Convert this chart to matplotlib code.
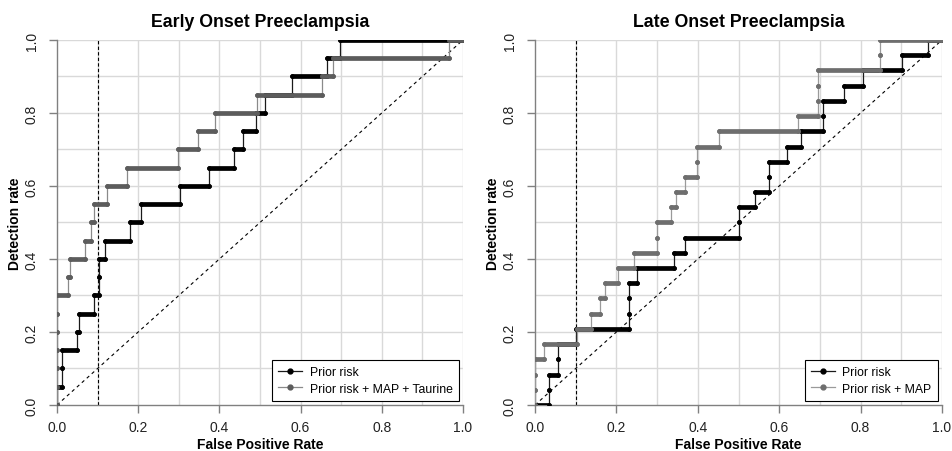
import numpy as np
import matplotlib
matplotlib.use("Agg")
import matplotlib.pyplot as plt
from matplotlib.lines import Line2D

plt.rcParams['font.family'] = ['Liberation Sans', 'DejaVu Sans']

# ---- data (step ROC curves) ----
# each run i sits at tpr level[i] and spans fpr edges[i] .. edges[i+1]
early_levels = [0.0, 0.05, 0.10, 0.15, 0.20, 0.25, 0.30, 0.35, 0.40, 0.45, 0.50,
                0.55, 0.60, 0.65, 0.70, 0.75, 0.80, 0.85, 0.90, 0.95, 1.0]
early_prior_edges = [0.0, 0.0, 0.013, 0.013, 0.048, 0.055, 0.09, 0.103, 0.103, 0.117,
                     0.18, 0.207, 0.302, 0.375, 0.437, 0.458, 0.49, 0.513, 0.58,
                     0.666, 0.698, 1.0]
early_combo_edges = [0.0, 0.0, 0.0, 0.0, 0.0, 0.0, 0.0, 0.028, 0.033, 0.07, 0.083,
                     0.092, 0.124, 0.173, 0.298, 0.348, 0.389, 0.493, 0.652, 0.68,
                     0.965, 1.0]

late_levels = [0.0, 0.042, 0.083, 0.125, 0.167, 0.208, 0.25, 0.292, 0.333, 0.375,
               0.417, 0.458, 0.5, 0.542, 0.583, 0.625, 0.667, 0.708, 0.75, 0.792,
               0.833, 0.875, 0.917, 0.958, 1.0]
late_prior_edges = [0.0, 0.035, 0.035, 0.056, 0.056, 0.1, 0.232, 0.232, 0.232, 0.25,
                    0.341, 0.368, 0.5, 0.5, 0.541, 0.575, 0.575, 0.619, 0.653, 0.708,
                    0.708, 0.758, 0.806, 0.902, 0.966, 1.0]
late_combo_edges = [0.0, 0.0, 0.0, 0.0, 0.021, 0.103, 0.137, 0.16, 0.173, 0.203, 0.244,
                    0.3, 0.3, 0.334, 0.346, 0.368, 0.399, 0.399, 0.452, 0.647, 0.695,
                    0.695, 0.695, 0.847, 0.847, 1.0]

titles = ["Early Onset Preeclampsia", "Late Onset Preeclampsia"]
legend_labels = [["Prior risk", "Prior risk + MAP + Taurine"],
                 ["Prior risk", "Prior risk + MAP"]]
cutoff_fpr = 0.1
ticks = [0.0, 0.2, 0.4, 0.6, 0.8, 1.0]
grid_pos = [0.1, 0.2, 0.3, 0.4, 0.5, 0.6, 0.7, 0.8, 0.9, 1.0]


def draw_curve(ax, levels, edges, dot_col, line_col):
    xs, ys = [], []
    for i, lv in enumerate(levels):
        xs += [edges[i], edges[i + 1]]
        ys += [lv, lv]
    # thin connecting step line
    ax.plot(xs, ys, color=line_col, lw=0.9, zorder=3)
    # dense dots along horizontal runs -> thick rounded segments
    for i, lv in enumerate(levels):
        if edges[i + 1] > edges[i]:
            ax.plot([edges[i], edges[i + 1]], [lv, lv], color=dot_col, lw=3.4,
                    solid_capstyle='round', zorder=4)
    ax.plot(xs, ys, 'o', color=dot_col, ms=3.4, mew=0, zorder=4, ls='none')


fig = plt.figure(figsize=(9.52, 4.52), dpi=100)
ax1 = fig.add_axes([0.0599, 0.1018, 0.4264, 0.8075])
ax2 = fig.add_axes([0.5620, 0.1018, 0.4275, 0.8075])

panels = [(ax1, early_levels, early_prior_edges, early_combo_edges, '#5c5c5c', '#8a8a8a'),
          (ax2, late_levels, late_prior_edges, late_combo_edges, '#6e6e6e', '#9a9a9a')]

for k, (ax, lv, e_prior, e_combo, gcol, glcol) in enumerate(panels):
    ax.set_xlim(0, 1)
    ax.set_ylim(0, 1)
    for g in grid_pos:
        ax.axvline(g, color='#d9d9d9', lw=1.0, zorder=0)
        ax.axhline(g, color='#d9d9d9', lw=1.0, zorder=0)
    ax.plot([0, 1], [0, 1], color='black', lw=0.8, ls=(0, (3, 3)), zorder=2)
    ax.axvline(cutoff_fpr, color='black', lw=0.8, ls=(0, (3, 2)), zorder=2)

    draw_curve(ax, lv, e_prior, 'black', '#1a1a1a')
    draw_curve(ax, lv, e_combo, gcol, glcol)

    for s in ['top', 'right']:
        ax.spines[s].set_visible(False)
    for s in ['left', 'bottom']:
        ax.spines[s].set_color('#808080')
        ax.spines[s].set_linewidth(1.0)
    ax.set_xticks(ticks)
    ax.set_yticks(ticks)
    ax.set_xticklabels(['%.1f' % t for t in ticks])
    ax.set_yticklabels(['%.1f' % t for t in ticks], rotation=90, va='center')
    ax.tick_params(direction='out', length=6, width=1.0, color='#808080',
                   labelsize=10, labelcolor='#222222', pad=5)
    ax.tick_params(axis='y', pad=7)
    ax.set_title(titles[k], fontsize=12.8, fontweight='bold', pad=10)
    ax.set_xlabel('False Positive Rate', fontsize=10, fontweight='bold', labelpad=2)
    ax.set_ylabel('Detection rate', fontsize=10, fontweight='bold', labelpad=2)

    handles = [Line2D([], [], color='#1a1a1a', lw=0.9, marker='o', ms=3.5,
                      mfc='black', mec='black'),
               Line2D([], [], color=glcol, lw=0.9, marker='o', ms=3.5,
                      mfc=gcol, mec=gcol)]
    leg = ax.legend(handles, legend_labels[k], loc='lower right', fontsize=8.8,
                    frameon=True, fancybox=False, framealpha=1, edgecolor='black',
                    handlelength=2.0, borderaxespad=0.35, labelspacing=0.35,
                    handletextpad=0.6, borderpad=0.5)
    leg.get_frame().set_linewidth(0.8)
    leg.set_zorder(10)

fig.savefig('out.png', dpi=100)
